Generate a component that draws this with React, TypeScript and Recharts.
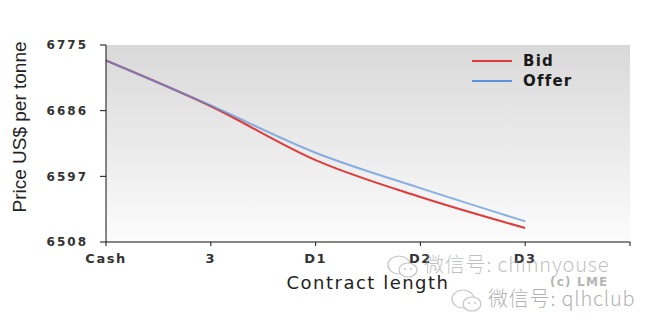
import React from 'react';
import { LineChart, Line, XAxis, YAxis, Label, CartesianGrid } from 'recharts';

const positions = [0, 1, 2, 3, 4];
const categories = ['Cash', '3', 'D1', 'D2', 'D3', ''];
const bidValues = [6754, 6692, 6619, 6569, 6527];
const offerValues = [6754, 6693, 6629, 6581, 6536];
const yTicks = [6508, 6597, 6686, 6775];
const seriesNames = ['Bid', 'Offer'];
const seriesColors = ['#e03a3a', '#5b92dc'];

const data = positions.map((p, i) => ({ pos: p, bid: bidValues[i], offer: offerValues[i] }));

const FONT = 'DejaVu Sans, Verdana, sans-serif';

const WeChatIcon = () => (
  <svg width="34" height="26" style={{ verticalAlign: 'middle', marginRight: 4 }}>
    <ellipse cx="13" cy="11" rx="11" ry="9" fill="none" stroke="#c4c4c4" strokeWidth="1.2" />
    <ellipse cx="22" cy="16" rx="9" ry="7" fill="#fff" stroke="#c4c4c4" strokeWidth="1.2" />
    <circle cx="19" cy="15" r="1" fill="#c4c4c4" />
    <circle cx="25" cy="15" r="1" fill="#c4c4c4" />
  </svg>
);

export default function App() {
  return (
    <div style={{ position: 'absolute', left: 0, top: 0, width: 659, height: 330, background: '#fff', overflow: 'hidden' }}>
      <svg width="0" height="0" style={{ position: 'absolute' }}>
        <defs>
          <linearGradient id="plotBg" x1="0" y1="0" x2="0" y2="1">
            <stop offset="0%" stopColor="#d9d9d9" />
            <stop offset="55%" stopColor="#ececec" />
            <stop offset="100%" stopColor="#fcfcfc" />
          </linearGradient>
        </defs>
      </svg>
      <LineChart width={659} height={330} data={data} margin={{ top: 45, right: 29, left: 0, bottom: 0 }}>
        <CartesianGrid horizontal={false} vertical={false} fill="url(#plotBg)" />
        <XAxis
          dataKey="pos"
          type="number"
          domain={[0, 5]}
          ticks={[0, 1, 2, 3, 4, 5]}
          tickFormatter={(v: number) => categories[v]}
          height={88}
          tickSize={4}
          tickMargin={8}
          stroke="#111"
          tick={{ fill: '#333', fontSize: 13, fontWeight: 'bold', fontFamily: FONT, letterSpacing: 1.5 }}
          interval={0}
        >
          <Label
            value="Contract length"
            position="insideBottom"
            offset={41}
            style={{ fill: '#222', fontSize: 18, fontFamily: FONT, fontWeight: 500, letterSpacing: 1.5 }}
          />
        </XAxis>
        <YAxis
          domain={[6508, 6775]}
          ticks={yTicks}
          width={106}
          tickSize={6}
          tickMargin={12}
          stroke="#111"
          tick={{ fill: '#333', fontSize: 12, fontWeight: 'bold', fontFamily: FONT, letterSpacing: 2 }}
          interval={0}
        >
          <Label
            content={() => (
              <text
                x={26}
                y={127}
                transform="rotate(-90, 26, 127)"
                textAnchor="middle"
                style={{ fill: '#222', fontSize: 19, fontFamily: 'Liberation Sans Narrow, Liberation Sans, Arial, sans-serif' }}
              >
                Price US$ per tonne
              </text>
            )}
          />
        </YAxis>
        <Line
          type="monotone"
          dataKey="bid"
          name={seriesNames[0]}
          stroke={seriesColors[0]}
          strokeWidth={2}
          dot={false}
          isAnimationActive={false}
        />
        <Line
          type="monotone"
          dataKey="offer"
          name={seriesNames[1]}
          stroke={seriesColors[1]}
          strokeOpacity={0.7}
          strokeWidth={2}
          dot={false}
          isAnimationActive={false}
        />
      </LineChart>
      <div style={{ position: 'absolute', left: 472, top: 51, fontFamily: FONT, fontWeight: 'bold', fontSize: 15, color: '#1a1a1a', lineHeight: '20px', letterSpacing: 1.2 }}>
        {seriesNames.map((n, i) => (
          <div key={n} style={{ display: 'flex', alignItems: 'center' }}>
            <span style={{ display: 'inline-block', width: 40, height: 2.5, background: seriesColors[i], marginRight: 11 }} />
            <span>{n}</span>
          </div>
        ))}
      </div>
      <div style={{ position: 'absolute', left: 386, top: 250, fontFamily: 'Noto Sans CJK SC, sans-serif', fontSize: 20, fontWeight: 300, color: 'rgba(150,150,150,0.6)', whiteSpace: 'nowrap', lineHeight: '28px', letterSpacing: 0.8 }}>
        <WeChatIcon />微信号: chinnyouse
      </div>
      <div style={{ position: 'absolute', left: 550, top: 275, fontFamily: FONT, fontSize: 12, fontWeight: 'bold', color: '#b5b5b5', whiteSpace: 'nowrap', letterSpacing: 1.2 }}>
        (c) LME
      </div>
      <div style={{ position: 'absolute', left: 450, top: 284, fontFamily: 'Noto Sans CJK SC, sans-serif', fontSize: 20, fontWeight: 300, color: 'rgba(150,150,150,0.75)', whiteSpace: 'nowrap', lineHeight: '28px', letterSpacing: 0.8 }}>
        <WeChatIcon />微信号: qlhclub
      </div>
    </div>
  );
}
